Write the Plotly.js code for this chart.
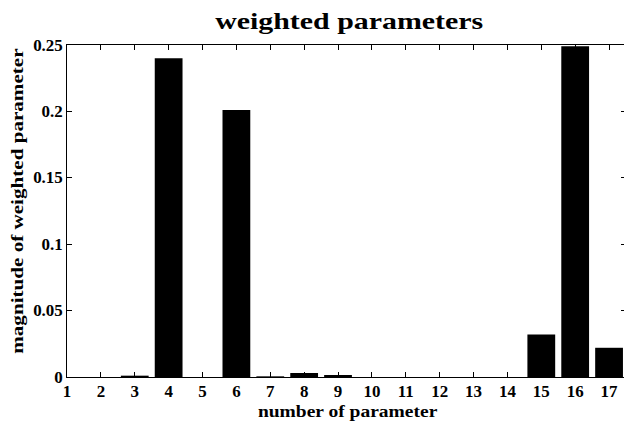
<!DOCTYPE html>
<html><head><meta charset="utf-8">
<script src="https://cdn.plot.ly/plotly-3.0.1.min.js"></script>
<style>html,body{margin:0;padding:0;background:#fff;overflow:hidden;width:624px;height:422px}</style>
</head><body><div id="chart" style="width:632px;height:422px"></div>
<script>
const params = [1,2,3,4,5,6,7,8,9,10,11,12,13,14,15,16,17];
const magnitudes = [0,0,0.001,0.240,0,0.201,0.0005,0.003,0.0015,0,0,0,0,0,0.032,0.249,0.022];
const yTicks = [0,0.05,0.1,0.15,0.2,0.25];
const yTickText = ['0','0.05','0.1','0.15','0.2','0.25'];
const chartTitle = 'weighted parameters';
const xTitle = 'number of parameter';
const yTitle = 'magnitude of weighted parameter';
const fam = 'Liberation Serif, Times New Roman, serif';
function f(size){return {family:fam, size:size, color:'#000', weight:'bold'};}
Plotly.newPlot('chart',[{
  type:'bar', x:params, y:magnitudes, width:0.82,
  marker:{color:'#000', line:{width:0}}, hoverinfo:'none'
}],{
  width:632, height:422,
  margin:{l:67,r:6,t:45,b:45},
  paper_bgcolor:'#fff', plot_bgcolor:'#fff',
  showlegend:false,
  xaxis:{range:[1,17.5], tickvals:params, ticktext:params.map(String), ticks:'inside', ticklen:5, tickcolor:'#000',
    showline:true, linecolor:'#000', linewidth:1, mirror:'ticks', showgrid:false, zeroline:false,
    tickfont:f(16), automargin:false},
  yaxis:{range:[0,0.25], tickvals:yTicks, ticktext:yTickText, ticks:'inside', ticklen:5, tickcolor:'#000',
    showline:true, linecolor:'#000', linewidth:1, mirror:'ticks', showgrid:false, zeroline:false,
    tickfont:f(16), automargin:false},
  annotations:[
    {text:chartTitle, xref:'paper', yref:'paper', x:0.505, y:1.07, xanchor:'center', yanchor:'middle', showarrow:false, font:f(23)},
    {text:xTitle, xref:'paper', yref:'paper', x:0.502, y:-0.104, xanchor:'center', yanchor:'middle', showarrow:false, font:f(16)},
    {text:yTitle, xref:'paper', yref:'paper', x:-0.088, y:0.53, xanchor:'center', yanchor:'middle', showarrow:false, textangle:-90, font:f(16)}
  ]
},{displayModeBar:false, staticPlot:true}).then(function(gd){
  function stretch(el, s){
    const bb = el.getBBox();
    const anc = el.getAttribute('text-anchor') || 'start';
    const ax = anc==='end' ? bb.x+bb.width : (anc==='middle' ? bb.x+bb.width/2 : bb.x);
    const old = el.getAttribute('transform') || '';
    el.setAttribute('transform', old+' translate('+ax+',0) scale('+s+',1) translate('+(-ax)+',0)');
  }
  gd.querySelectorAll('.xtick text, .ytick text').forEach(el=>stretch(el,1.06));
  const ann = gd.querySelectorAll('.annotation text');
  if(ann[0]) stretch(ann[0],1.3);
  if(ann[1]) stretch(ann[1],1.22);
  if(ann[2]) stretch(ann[2],1.32);
});
</script></body></html>
